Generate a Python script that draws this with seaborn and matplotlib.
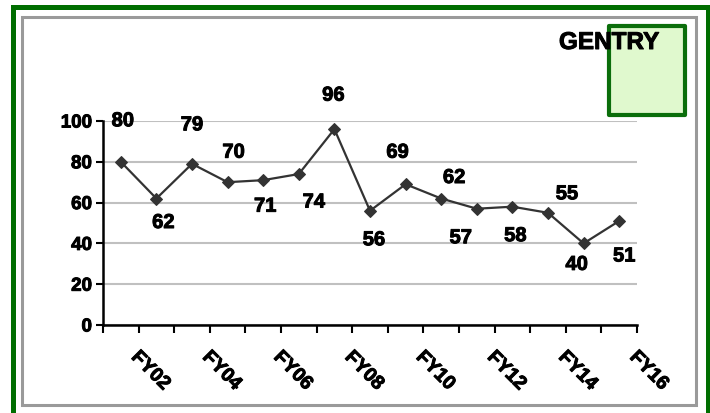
import numpy as np
import pandas as pd
import matplotlib
matplotlib.use("Agg")
import matplotlib.pyplot as plt
import matplotlib.patheffects as pe
import seaborn as sns
from matplotlib.patches import Rectangle
from matplotlib.transforms import ScaledTranslation

# ---- data ----
categories = ["FY02", "FY03", "FY04", "FY05", "FY06", "FY07", "FY08", "FY09",
              "FY10", "FY11", "FY12", "FY13", "FY14", "FY15", "FY16"]
values = [80, 62, 79, 70, 71, 74, 96, 56, 69, 62, 57, 58, 55, 40, 51]
y_ticks = [0, 20, 40, 60, 80, 100]
title_text = "GENTRY"

# data-label offsets in pixels (dx right, dy up) -- layout only
label_offsets = [(2, 41), (7, -24), (0, 39), (6, 30), (2, -26), (15, -28),
                 (-1, 34), (4, -29), (-8, 32), (13, 21), (-16, -29), (3, -29),
                 (19, 19), (-7, -21), (5, -35)]

sns.set_theme(style="white")
plt.rcParams['font.family'] = ['Liberation Sans', 'DejaVu Sans']
plt.rcParams['font.weight'] = 'bold'
plt.rcParams['text.color'] = 'black'
plt.rcParams['xtick.color'] = 'black'
plt.rcParams['ytick.color'] = 'black'

heavy = [pe.withStroke(linewidth=0.7, foreground='black')]

W, H = 710, 413
fig = plt.figure(figsize=(W / 100, H / 100), dpi=100)
fig.patch.set_facecolor('white')


def fx(px):
    return px / W


def fy(py):
    return 1 - py / H


# outer green frame and inner gray frame
fig.add_artist(Rectangle((fx(12.5), fy(425)), fx(707.5) - fx(12.5), fy(7.5) - fy(425),
                         transform=fig.transFigure, fill=False, edgecolor='#006E00',
                         linewidth=3.6, clip_on=False, zorder=0))
fig.add_artist(Rectangle((fx(21.5), fy(405)), fx(696) - fx(21.5), fy(16.5) - fy(405),
                         transform=fig.transFigure, fill=False, edgecolor='#9A9A9A',
                         linewidth=2.2, clip_on=False, zorder=0))

ax = fig.add_axes([fx(103), fy(325), fx(637) - fx(103), fy(121) - fy(325)])
ax.set_facecolor('none')

df = pd.DataFrame({"pos": np.arange(len(categories)), "value": values})
sns.lineplot(data=df, x="pos", y="value", ax=ax, color="#333333", linewidth=1.6,
             marker="D", markersize=6.5, markeredgecolor="#333333",
             markerfacecolor="#333333", zorder=3)

ax.set_xlim(-0.5, len(categories) - 0.5)
ax.set_ylim(0, 100)
ax.set_xlabel("")
ax.set_ylabel("")

ax.set_yticks(y_ticks)
ax.set_yticklabels([str(t) for t in y_ticks])
ax.yaxis.grid(True, color="#C0C0C0", linewidth=1.5)
ax.xaxis.grid(False)
ax.set_axisbelow(True)

major_pos = np.arange(0, len(categories), 2)
ax.set_xticks(major_pos)
ax.set_xticklabels(categories[::2], rotation=-45, ha='left', va='top',
                   rotation_mode='anchor')
ax.set_xticks(np.arange(-0.5, len(categories)), minor=True)

ax.tick_params(axis='y', left=True, length=5, width=1.5, color='black', pad=3,
               labelcolor='black', labelsize=13.5)
ax.tick_params(axis='x', which='major', bottom=True, length=0, pad=17,
               labelcolor='black', labelsize=14)
ax.tick_params(axis='x', which='minor', bottom=True, length=6, width=1.5, color='black')

offset = ScaledTranslation(19 / 100, 0, fig.dpi_scale_trans)
for lbl in ax.get_xticklabels():
    lbl.set_transform(lbl.get_transform() + offset)
    lbl.set_fontweight('bold')
    lbl.set_color('black')
    lbl.set_path_effects(heavy)
for lbl in ax.get_yticklabels():
    lbl.set_fontweight('bold')
    lbl.set_color('black')
    lbl.set_path_effects(heavy)

for s in ['top', 'right']:
    ax.spines[s].set_visible(False)
for s in ['left', 'bottom']:
    ax.spines[s].set_color('black')
    ax.spines[s].set_linewidth(1.8)

for i, (v, (dx, dy)) in enumerate(zip(values, label_offsets)):
    ax.annotate(str(v), xy=(i, v), xytext=(dx, dy), textcoords='offset pixels',
                ha='center', va='center', fontsize=14.5, fontweight='bold',
                color='black', annotation_clip=False, path_effects=heavy)

# legend-like green box with title text
fig.add_artist(Rectangle((fx(609), fy(115)), fx(685) - fx(609), fy(26) - fy(115),
                         transform=fig.transFigure, facecolor='#E0F9CE',
                         edgecolor='#0B6E0B', linewidth=3, joinstyle='round',
                         clip_on=False, zorder=1))
fig.text(fx(609), fy(49), title_text, ha='center', va='baseline', fontsize=17.5,
         fontweight='bold', color='black', zorder=5, path_effects=heavy)

fig.savefig("out.png", dpi=100)
